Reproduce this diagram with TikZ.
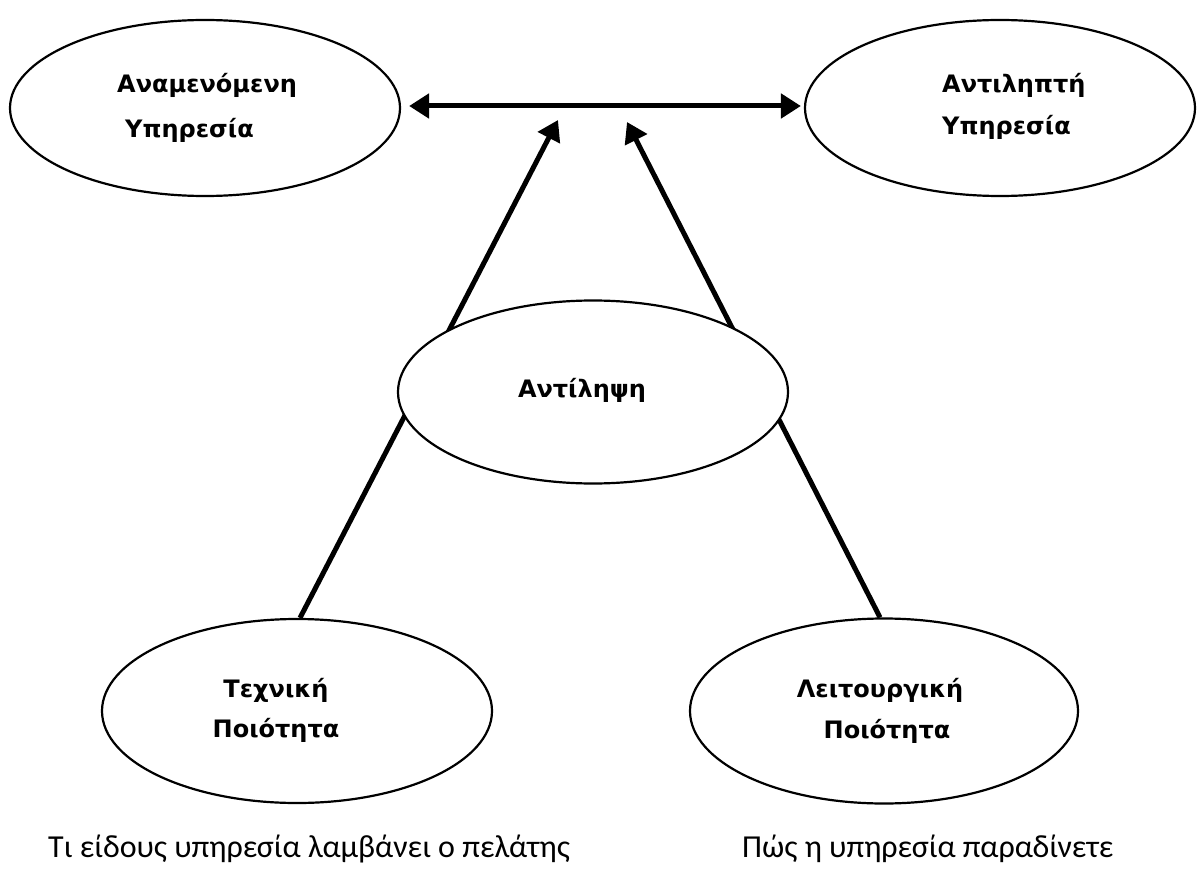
\documentclass[tikz,border=0pt]{standalone}
\usepackage{fontspec}
\setmainfont{DejaVu Sans}
\newfontfamily\capfont{Carlito}
\usetikzlibrary{arrows.meta,shapes.geometric}
\begin{document}
\begin{tikzpicture}[x=1pt,y=-1pt,
  oval/.style={draw=black,line width=2.2pt,ellipse,fill=white,inner sep=0pt},
  lbl/.style={font=\bfseries\fontsize{24}{42}\selectfont,inner sep=0pt},
  captext/.style={font=\capfont\fontsize{32}{36}\selectfont,inner sep=0pt},
  conn/.style={line width=5pt,-{Triangle[length=20pt,width=24pt]}},
  dconn/.style={line width=5pt,{Triangle[length=20pt,width=24pt]}-{Triangle[length=20pt,width=24pt]}}
]
\useasboundingbox (0,0) rectangle (1204,869);
\fill[white] (0,0) rectangle (1204,869);
% ellipses
\node[oval,minimum width=390pt,minimum height=176pt] (anam) at (205,108) {};
\node[oval,minimum width=390pt,minimum height=176pt] (antil) at (1000,108) {};
\node[oval,minimum width=390pt,minimum height=184pt] (tech) at (297,711) {};
\node[oval,minimum width=388pt,minimum height=185pt] (leit) at (884,711) {};
% connector ends
\coordinate (tipL) at (558,120);
\coordinate (tipR) at (627,122);
\draw[dconn] ([xshift=8pt,yshift=2pt]anam.east) -- ([xshift=-3pt,yshift=2pt]antil.west);
\draw[conn] ([xshift=3pt]tech.north) -- (tipL);
\draw[conn] ([xshift=-4pt]leit.north) -- (tipR);
% perception ellipse on top
\node[oval,minimum width=390pt,minimum height=183pt] (antilipsi) at (593,392) {};
% texts
\node[lbl,align=left,anchor=base west] (anamT) at (117,138) {Αναμενόμενη\\[3pt]\hspace*{8pt}Υπηρεσία};
\node[lbl,align=left,anchor=base west] (antilT) at (942,135) {Αντιληπτή\\[0pt]Υπηρεσία};
\node[lbl,align=center,anchor=base] (techT) at (276,737) {Τεχνική\\[-2pt]Ποιότητα};
\node[lbl,align=center,anchor=base] (leitT) at (880,738) {Λειτουργική\\[-1pt]\hspace*{14pt}Ποιότητα};
\node[lbl,anchor=base] (antilipsiT) at (582,397) {Αντίληψη};
% captions
\node[captext,anchor=base west] (cap1) at (48,857) {Τι είδους υπηρεσία λαμβάνει ο πελάτης};
\node[captext,anchor=base west] (cap2) at (742,857) {Πώς η υπηρεσία παραδίνετε};
\end{tikzpicture}
\end{document}
